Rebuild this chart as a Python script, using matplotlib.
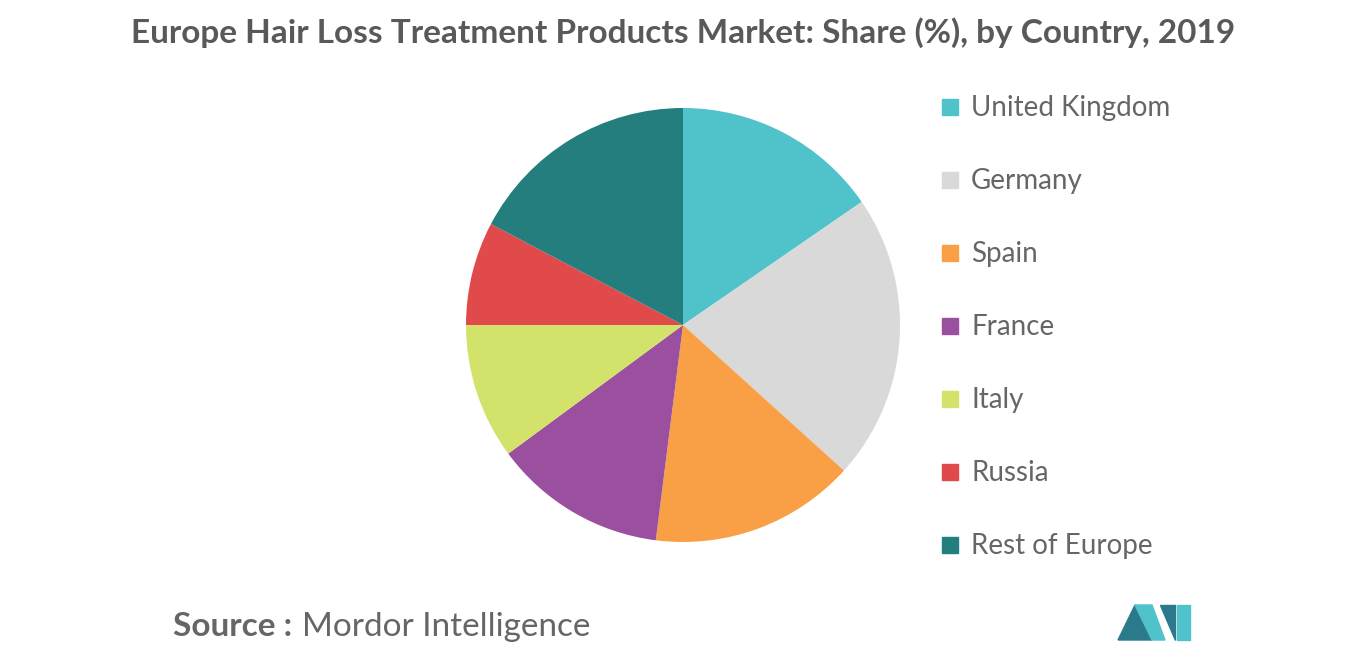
import matplotlib
matplotlib.use("Agg")
import matplotlib.pyplot as plt
from matplotlib.patches import Rectangle, Polygon

categories = ["United Kingdom", "Germany", "Spain", "France", "Italy", "Russia", "Rest of Europe"]
shares = [15.4, 21.3, 15.3, 12.9, 10.1, 7.7, 17.3]
colors = ["#4FC3C9", "#D9D9D9", "#F9A046", "#9B509F", "#D3E26A", "#E04A4A", "#247E7E"]

fig = plt.figure(figsize=(13.66, 6.55), dpi=100)
W, H = 1366, 655
r = 217
cx, cy = 683, 325
ax = fig.add_axes([(cx - r) / W, (H - cy - r) / H, 2 * r / W, 2 * r / H])
ax.pie(shares, colors=colors, startangle=90, counterclock=False, radius=1)
ax.set_xlim(-1, 1); ax.set_ylim(-1, 1); ax.set_aspect("auto"); ax.axis("off")

fig.text(cx / W, 1 - 33 / H, "Europe Hair Loss Treatment Products Market: Share (%), by Country, 2019",
         ha="center", va="center", fontsize=24, fontweight="bold", color="#595959", family="Lato")

for i, (c, col) in enumerate(zip(categories, colors)):
    y = 107 + i * 73
    fig.patches.append(Rectangle(((942) / W, 1 - (y + 8) / H), 16 / W, 16 / H,
                                 transform=fig.transFigure, color=col))
    fig.text(971 / W, 1 - (y + 1) / H, c, ha="left", va="center", fontsize=20, color="#666666", family="Lato")

fig.text(173 / W, 1 - 627 / H, "Source :", ha="left", va="center", fontsize=24, fontweight="bold",
         color="#666666", family="Lato")
fig.text(302 / W, 1 - 627 / H, "Mordor Intelligence", ha="left", va="center", fontsize=24,
         color="#666666", family="Lato")

def P(pts, col):
    fig.patches.append(Polygon([(x / W, 1 - y / H) for x, y in pts], closed=True,
                               transform=fig.transFigure, color=col))
P([(1118, 640), (1135, 605), (1152, 640)], "#2B7A8C")
P([(1135, 605), (1152, 605), (1165, 640), (1152, 640)], "#4FC3C9")
P([(1160, 605), (1175, 605), (1175, 640)], "#2B7A8C")
P([(1177, 605), (1190, 605), (1190, 640), (1177, 640)], "#4FC3C9")

fig.savefig("out.png", dpi=100, facecolor="white")
